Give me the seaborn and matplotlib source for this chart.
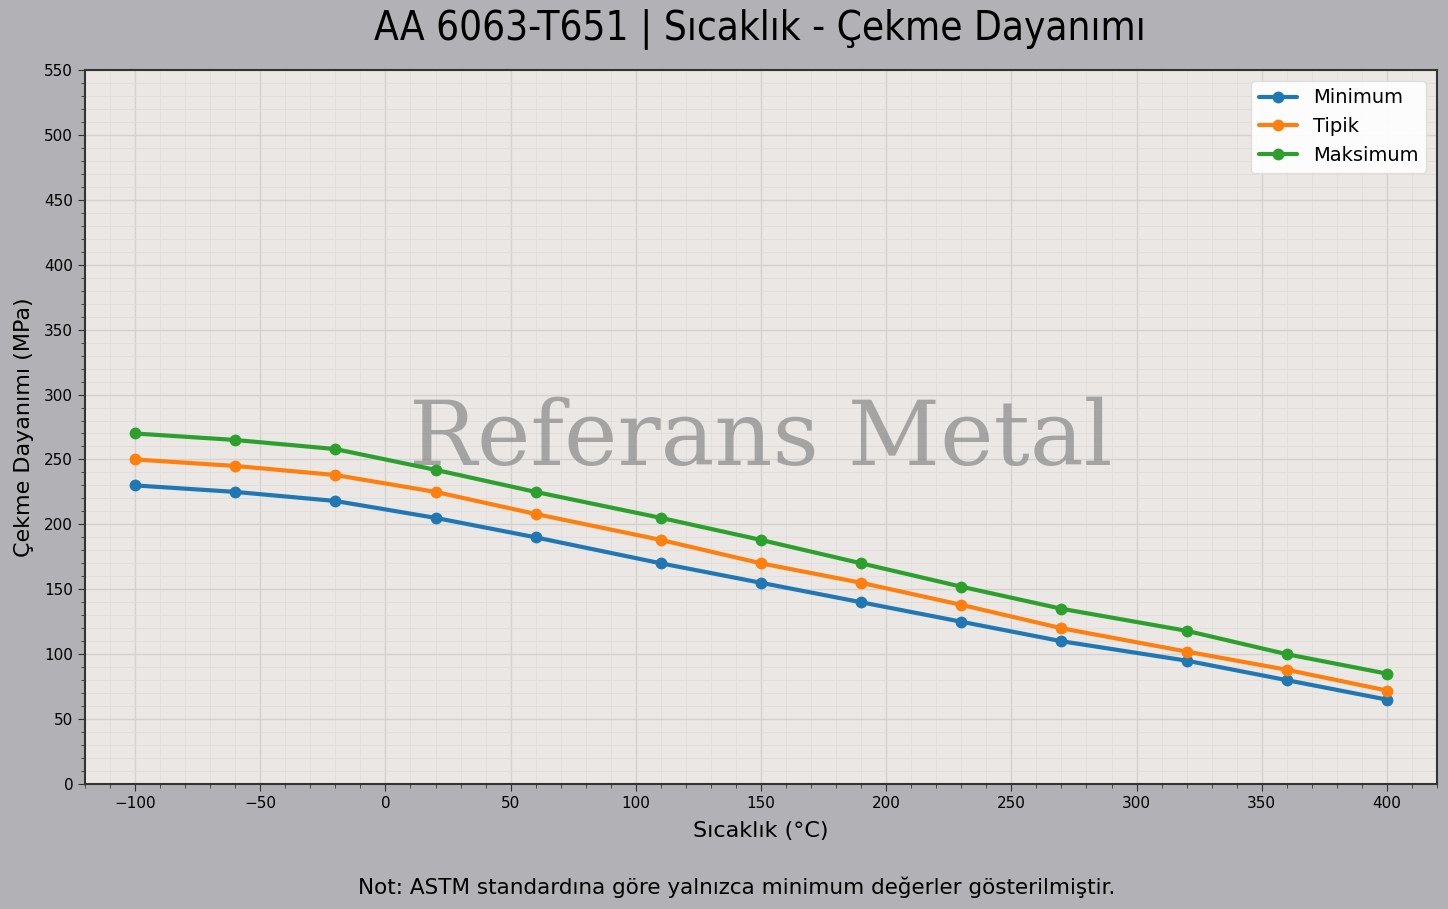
import matplotlib
matplotlib.use('Agg')
import matplotlib.pyplot as plt
from matplotlib.ticker import MultipleLocator
import seaborn as sns
import pandas as pd

# data
temperatures = [-100, -60, -20, 20, 60, 110, 150, 190, 230, 270, 320, 360, 400]
minimum = [230, 225, 218, 205, 190, 170, 155, 140, 125, 110, 95, 80, 65]
typical = [250, 245, 238, 225, 208, 188, 170, 155, 138, 120, 102, 88, 72]
maximum = [270, 265, 258, 242, 225, 205, 188, 170, 152, 135, 118, 100, 85]
series_names = ['Minimum', 'Tipik', 'Maksimum']

df = pd.DataFrame({
    'temp': temperatures * 3,
    'value': minimum + typical + maximum,
    'series': [n for n in series_names for _ in temperatures],
})

sns.set_style('whitegrid')
plt.rcParams['font.family'] = ['DejaVu Sans']
plt.rcParams['text.color'] = 'black'
plt.rcParams['axes.labelcolor'] = 'black'
plt.rcParams['xtick.color'] = 'black'
plt.rcParams['ytick.color'] = 'black'

fig = plt.figure(figsize=(14.48, 9.09), dpi=100, facecolor='#b1b1b6')
ax = fig.add_axes([85 / 1448, 1 - 784 / 909, (1437 - 85) / 1448, (784 - 70) / 909])
ax.set_facecolor('#eae7e5')

palette = ['#1f77b4', '#ff7f0e', '#2ca02c']
sns.lineplot(data=df, x='temp', y='value', hue='series', hue_order=series_names,
             palette=palette, marker='o', markersize=8.5, markeredgewidth=0,
             linewidth=3, ax=ax, zorder=3)

ax.set_xlim(-120, 420)
ax.set_ylim(0, 550)
ax.xaxis.set_major_locator(MultipleLocator(50))
ax.xaxis.set_minor_locator(MultipleLocator(10))
ax.yaxis.set_major_locator(MultipleLocator(50))
ax.yaxis.set_minor_locator(MultipleLocator(10))
ax.grid(which='major', color='#d4d1cf', linewidth=1.0)
ax.grid(which='minor', color='#e0dddb', linewidth=0.6)
ax.tick_params(which='both', direction='out', color='#333333', bottom=True, left=True)
ax.tick_params(which='major', length=5, labelsize=11)
ax.tick_params(which='minor', length=3)
for s in ax.spines.values():
    s.set_color('#333333')
    s.set_linewidth(1.5)

ax.set_xlabel('Sıcaklık (°C)', fontsize=16, labelpad=7)
ax.set_ylabel('Çekme Dayanımı (MPa)', fontsize=16, labelpad=7)

ax.text(0.5, 0.482, 'Referans Metal', transform=ax.transAxes, family='DejaVu Serif',
        fontsize=65, color='#888888', alpha=0.7, ha='center', va='center', zorder=2)

leg = ax.legend(loc='upper right', fontsize=14, frameon=True, facecolor='white',
                framealpha=0.9, edgecolor='#dddddd', handlelength=2.0,
                borderaxespad=0.55)
for line in leg.get_lines():
    line.set_linewidth(3)

fig.text(0.525, 1 - 30 / 909, 'AA 6063-T651 | Sıcaklık - Çekme Dayanımı', fontsize=29,
         fontstretch='condensed', ha='center', va='center')
fig.text(0.509, 1 - 887 / 909, 'Not: ASTM standardına göre yalnızca minimum değerler gösterilmiştir.',
         fontsize=15.5, ha='center', va='center')

fig.savefig('out.png', dpi=100, facecolor=fig.get_facecolor())
